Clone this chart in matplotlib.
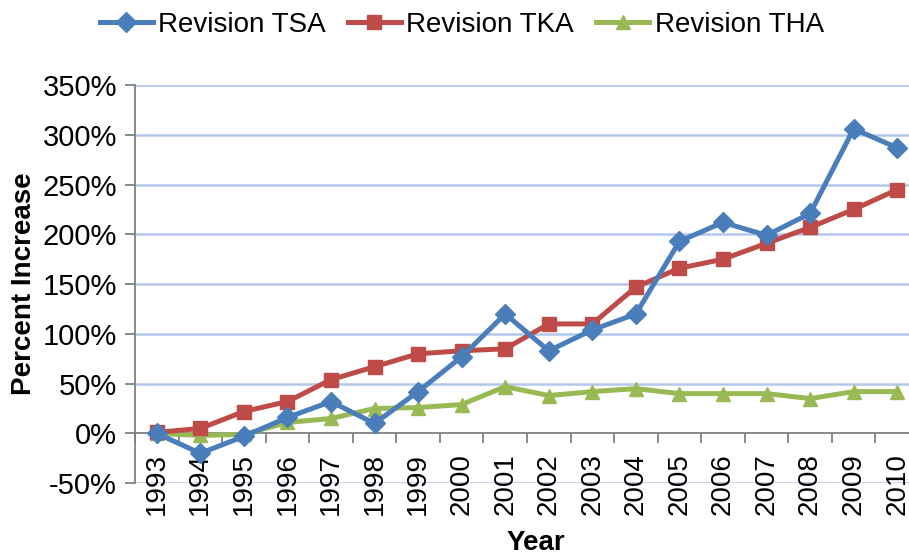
import matplotlib.pyplot as plt
import numpy as np

years = ['1993', '1994', '1995', '1996', '1997', '1998', '1999', '2000', '2001',
         '2002', '2003', '2004', '2005', '2006', '2007', '2008', '2009', '2010']
tsa = [0, -20, -3, 16, 32, 10, 42, 77, 120, 83, 104, 120, 193, 212, 199, 221, 306, 287]
tka = [1, 5, 22, 32, 54, 67, 80, 83, 85, 110, 110, 147, 166, 175, 191, 207, 225, 245]
tha = [0, -2, -1, 11, 15, 25, 26, 29, 47, 38, 42, 45, 40, 40, 40, 35, 42, 42]
yticks = [-50, 0, 50, 100, 150, 200, 250, 300, 350]

plt.rcParams['font.family'] = ['Liberation Sans', 'DejaVu Sans']

fig = plt.figure(figsize=(9.09, 5.56), dpi=100)
ax = fig.add_axes([0.1485, 0.131, 0.8625, 0.716])

x = np.arange(len(years))
ax.plot(x, tsa, color='#4A7EBB', lw=3.6, marker='D', ms=10, label='Revision TSA', zorder=5)
ax.plot(x, tka, color='#BE4B48', lw=3.6, marker='s', ms=10, label='Revision TKA', zorder=4)
ax.plot(x, tha, color='#98B954', lw=3.6, marker='^', ms=10, label='Revision THA', zorder=3)

ax.set_xlim(-0.5, len(years) - 0.5)
ax.set_ylim(-50, 350)
ax.set_yticks(yticks)
ax.set_yticklabels(['{}%'.format(v) for v in yticks], fontsize=21)
for v in yticks:
    if v != 0:
        ax.axhline(v, color='#B4C6EA', lw=1.8, zorder=1)

ax.spines['top'].set_visible(False)
ax.spines['right'].set_visible(False)
ax.spines['bottom'].set_position(('data', 0))
ax.spines['bottom'].set_color('#808080')
ax.spines['left'].set_color('#808080')
ax.spines['bottom'].set_linewidth(1.3)
ax.spines['left'].set_linewidth(1.3)

ax.set_xticks(x)
ax.set_xticklabels(years, rotation=90, fontsize=20)
ax.set_xticks(np.arange(len(years) + 1) - 0.5, minor=True)
ax.tick_params(axis='x', which='major', length=0, pad=14)
ax.tick_params(axis='x', which='minor', length=7, color='#808080', width=1.3)
ax.tick_params(axis='y', length=7, color='#808080', width=1.3, pad=6)

ax.set_ylabel('Percent Increase', fontsize=20, fontweight='bold', labelpad=4)
fig.text(0.589, 0.023, 'Year', fontsize=20, fontweight='bold', ha='center', va='center')

fig.legend(loc='center', bbox_to_anchor=(0.508, 0.955), ncol=3, frameon=False,
           fontsize=20, handlelength=1.9, columnspacing=0.8, handletextpad=0.2)

fig.savefig('out.png', dpi=100)
